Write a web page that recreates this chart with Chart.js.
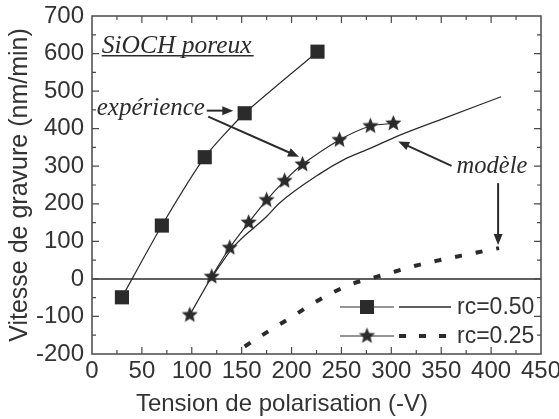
<!DOCTYPE html>
<html>
<head>
<meta charset="utf-8">
<script src="https://cdn.jsdelivr.net/npm/chart.js@4.4.1/dist/chart.umd.min.js"></script>
<style>
  html, body { margin: 0; padding: 0; background: #fff; }
</style>
</head>
<body>
<canvas id="chart" width="559" height="419"></canvas>
<script>
const INK = '#2b2b2b';
const TEXT = '#333333';
const FRAME = '#4a4a4a';
const SANS = "'Liberation Sans', Arial, sans-serif";
const SERIF = "'Liberation Serif', 'Times New Roman', serif";

// experiment, rc=0.50 (squares)
const sqX = [30, 70, 113, 153, 226];
const sqY = [-49, 142, 324, 441, 605];

// experiment, rc=0.25 (stars)
const starX = [98, 120, 138, 157, 175, 193, 211, 248, 279, 302];
const starY = [-96, 6, 83, 150, 210, 261, 305, 370, 407, 414];

// model, rc=0.50 (solid)
const mod50X = [119, 142, 175, 188, 229, 252, 280, 305, 350, 410];
const mod50Y = [0, 86, 166, 202, 281, 317, 349, 379, 425, 485];

// model, rc=0.25 (dotted)
const mod25X = [153, 177, 198, 218, 240, 261, 282, 303, 324, 345, 365, 387, 408];
const mod25Y = [-180, -139, -105, -71, -38, -13, 3, 19, 35, 48, 59, 71, 82];

const xTicks = [0, 50, 100, 150, 200, 250, 300, 350, 400, 450];
const yTicks = [-200, -100, 0, 100, 200, 300, 400, 500, 600, 700];
const legendLabels = ['rc=0.50', 'rc=0.25'];
const xTitle = 'Tension de polarisation (-V)';
const yTitle = 'Vitesse de gravure (nm/min)';

function pts(xs, ys) {
    return xs.map((x, i) => ({x: x, y: ys[i]}));
}

// filled five point star used as point style
function makeStar(r) {
    const c = document.createElement('canvas');
    const s = Math.ceil(r * 2 + 2);
    c.width = s; c.height = s;
    const g = c.getContext('2d');
    g.fillStyle = INK;
    g.beginPath();
    for (let i = 0; i < 10; i++) {
        const rad = i % 2 ? r * 0.45 : r;
        const a = -Math.PI / 2 + i * Math.PI / 5;
        const px = s / 2 + rad * Math.cos(a), py = s / 2 + rad * Math.sin(a);
        if (i) g.lineTo(px, py); else g.moveTo(px, py);
    }
    g.closePath();
    g.fill();
    return c;
}
const starImg = makeStar(8.5);

function arrow(ctx, x1, y1, x2, y2) {
    const a = Math.atan2(y2 - y1, x2 - x1), L = 11, W = 4.5;
    ctx.beginPath();
    ctx.moveTo(x1, y1);
    ctx.lineTo(x2 - L * 0.8 * Math.cos(a), y2 - L * 0.8 * Math.sin(a));
    ctx.stroke();
    ctx.beginPath();
    ctx.moveTo(x2, y2);
    ctx.lineTo(x2 - L * Math.cos(a) + W * Math.sin(a), y2 - L * Math.sin(a) - W * Math.cos(a));
    ctx.lineTo(x2 - L * Math.cos(a) - W * Math.sin(a), y2 - L * Math.sin(a) + W * Math.cos(a));
    ctx.closePath();
    ctx.fill();
}

// frame, inward ticks, zero line, axis titles, notes and legend
const decor = {
    id: 'decor',
    beforeDatasetsDraw(chart) {
        const {ctx, chartArea: a, scales: {y}} = chart;
        ctx.save();
        ctx.strokeStyle = INK;
        ctx.lineWidth = 1.5;
        ctx.beginPath();
        ctx.moveTo(a.left, y.getPixelForValue(0));
        ctx.lineTo(a.right, y.getPixelForValue(0));
        ctx.stroke();
        ctx.restore();
    },
    afterDatasetsDraw(chart) {
        const {ctx, chartArea: a, scales: {x, y}} = chart;
        ctx.save();
        ctx.strokeStyle = FRAME;
        ctx.lineWidth = 1.5;
        ctx.strokeRect(a.left, a.top, a.right - a.left, a.bottom - a.top);
        ctx.lineWidth = 1.2;
        ctx.beginPath();
        for (let v = 25; v < 450; v += 25) {
            const px = x.getPixelForValue(v), len = v % 50 ? 4 : 7;
            ctx.moveTo(px, a.bottom); ctx.lineTo(px, a.bottom - len);
            ctx.moveTo(px, a.top); ctx.lineTo(px, a.top + len);
        }
        for (let v = -150; v < 700; v += 50) {
            const py = y.getPixelForValue(v), len = v % 100 ? 4 : 7;
            ctx.moveTo(a.left, py); ctx.lineTo(a.left + len, py);
            ctx.moveTo(a.right, py); ctx.lineTo(a.right - len, py);
        }
        ctx.stroke();

        // axis titles
        ctx.fillStyle = TEXT;
        ctx.font = '24px ' + SANS;
        ctx.textAlign = 'center';
        ctx.textBaseline = 'alphabetic';
        ctx.fillText(xTitle, 282, 411);
        ctx.save();
        ctx.translate(26.5, (a.top + a.bottom) / 2);
        ctx.rotate(-Math.PI / 2);
        ctx.font = '25px ' + SANS;
        ctx.fillText(yTitle, 0, 0);
        ctx.restore();

        // notes
        const X = v => x.getPixelForValue(v), Y = v => y.getPixelForValue(v);
        ctx.fillStyle = INK;
        ctx.strokeStyle = INK;
        ctx.textAlign = 'left';
        ctx.font = 'italic 25.5px ' + SERIF;
        ctx.fillText('SiOCH poreux', X(9.7), Y(602));
        ctx.lineWidth = 1.5;
        ctx.beginPath();
        ctx.moveTo(X(9.7), Y(594)); ctx.lineTo(X(162), Y(594));
        ctx.stroke();
        ctx.font = 'italic 25px ' + SERIF;
        ctx.fillText('expérience', X(4.7), Y(437));
        ctx.font = 'italic 24.5px ' + SERIF;
        ctx.fillText('modèle', X(365.4), Y(281));
        ctx.lineWidth = 2;
        arrow(ctx, X(115), Y(448), X(141.6), Y(448));
        arrow(ctx, X(116.5), Y(432), X(207.4), Y(325));
        arrow(ctx, X(360.4), Y(301), X(306.9), Y(366));
        arrow(ctx, X(407), Y(255), X(407), Y(90.5));

        // legend
        const mx = a.right - 174, tx = a.right - 84;
        const rows = [a.bottom - 47, a.bottom - 18];
        ctx.lineWidth = 1.2;
        rows.forEach(ry => {
            ctx.beginPath();
            ctx.moveTo(mx - 27, ry); ctx.lineTo(mx + 27, ry);
            ctx.stroke();
        });
        ctx.fillRect(mx - 7, rows[0] - 7, 14, 14);
        ctx.drawImage(starImg, mx - starImg.width / 2, rows[1] - starImg.height / 2);
        ctx.lineWidth = 1.3;
        ctx.beginPath();
        ctx.moveTo(mx + 32, rows[0]); ctx.lineTo(mx + 84, rows[0]);
        ctx.stroke();
        ctx.lineWidth = 4;
        ctx.setLineDash([7, 13]);
        ctx.beginPath();
        ctx.moveTo(mx + 32, rows[1]); ctx.lineTo(mx + 80, rows[1]);
        ctx.stroke();
        ctx.setLineDash([]);
        ctx.fillStyle = TEXT;
        ctx.font = '23px ' + SANS;
        ctx.textBaseline = 'middle';
        legendLabels.forEach((t, i) => ctx.fillText(t, tx, rows[i] + 1));
        ctx.restore();
    }
};

new Chart(document.getElementById('chart'), {
    type: 'scatter',
    data: {
        datasets: [
            {data: pts(sqX, sqY), showLine: true, borderColor: INK, borderWidth: 1.2, tension: 0.2,
             pointStyle: 'rect', pointRadius: 10, backgroundColor: INK, pointBorderWidth: 0},
            {data: pts(starX, starY), showLine: true, borderColor: INK, borderWidth: 1.2, tension: 0.3,
             pointStyle: starImg, pointRadius: 8},
            {data: pts(mod50X, mod50Y), showLine: true, borderColor: INK, borderWidth: 1.3,
             cubicInterpolationMode: 'monotone', pointRadius: 0},
            {data: pts(mod25X, mod25Y), showLine: true, borderColor: INK, borderWidth: 4,
             borderDash: [7, 14], cubicInterpolationMode: 'monotone', pointRadius: 0}
        ]
    },
    options: {
        responsive: false,
        animation: false,
        events: [],
        layout: {padding: {top: 16, right: 18, left: 0, bottom: 0}},
        plugins: {legend: {display: false}, tooltip: {enabled: false}},
        scales: {
            x: {
                type: 'linear', min: 0, max: 450,
                grid: {display: false, drawTicks: false},
                border: {display: false},
                afterBuildTicks: s => { s.ticks = xTicks.map(v => ({value: v})); },
                ticks: {padding: 3, color: TEXT, maxRotation: 0, font: {family: SANS, size: 24}},
                afterFit: s => { s.height = 65; s.paddingLeft = 0; s.paddingRight = 0; }
            },
            y: {
                type: 'linear', min: -200, max: 700,
                grid: {display: false, drawTicks: false},
                border: {display: false},
                afterBuildTicks: s => { s.ticks = yTicks.map(v => ({value: v})); },
                ticks: {padding: 8, color: TEXT, font: {family: SANS, size: 24}},
                afterFit: s => { s.width = 92; s.paddingTop = 0; s.paddingBottom = 0; }
            }
        }
    },
    plugins: [decor]
});
</script>
</body>
</html>
